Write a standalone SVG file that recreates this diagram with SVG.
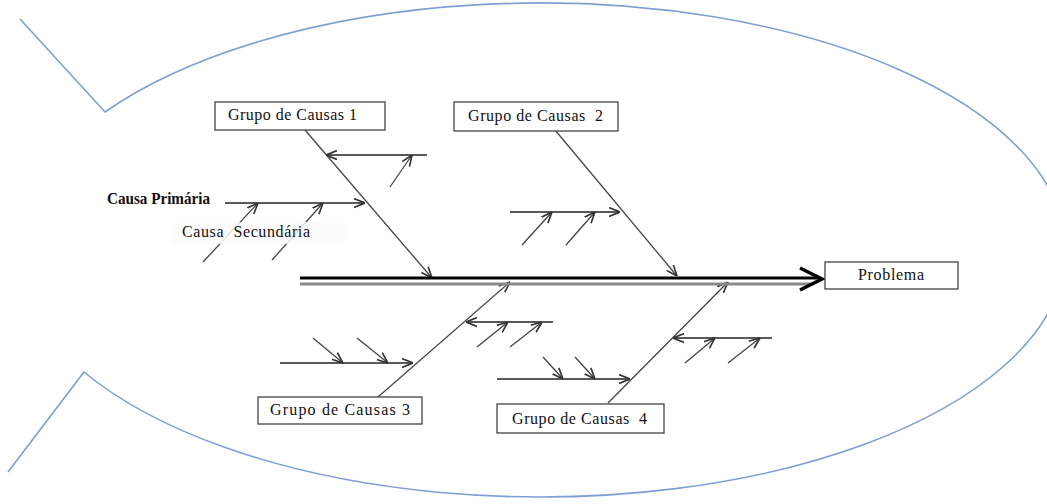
<svg xmlns="http://www.w3.org/2000/svg" width="1047" height="504" viewBox="0 0 1047 504">
<style>
.box{fill:#fff;stroke:#444;stroke-width:1.3}
.lbl{font-family:"Liberation Serif","Times New Roman",serif;font-size:16px;fill:#111}
.bone{stroke:#444;stroke-width:1.3;fill:none;marker-end:url(#arr)}
.sub{stroke:#222;stroke-width:1.5;fill:none;marker-end:url(#arr)}
.tw{stroke:#444;stroke-width:1.3;fill:none;marker-end:url(#arr)}
</style>
<defs>
<marker id="arr" viewBox="0 0 10 10" refX="10" refY="5" markerWidth="11" markerHeight="11" markerUnits="userSpaceOnUse" orient="auto">
<path d="M0,1 L10,5 L0,9" fill="none" stroke="#333" stroke-width="1.5"/>
</marker>
</defs>
<rect width="1047" height="504" fill="#fff"/>
<g id="fish">
<path d="M20,19 L105,112 A525 247 0 1 1 84,372 L8,472" fill="none" stroke="#7f9fd2" stroke-width="1.6"/>
</g>
<g id="connectors">
<line class="bone" x1="305" y1="130" x2="432" y2="278"/>
<line class="bone" x1="555" y1="130" x2="677" y2="276"/>
<line class="bone" x1="378" y1="397" x2="510" y2="282"/>
<line class="bone" x1="608" y1="403" x2="728" y2="282"/>
<line class="sub" x1="427" y1="155" x2="326" y2="155"/>
<line class="tw" x1="390" y1="187" x2="412" y2="155"/>
<line class="sub" x1="225" y1="203" x2="365" y2="203"/>
<line class="tw" x1="203" y1="262" x2="258" y2="203"/>
<line class="tw" x1="272" y1="260" x2="323" y2="203"/>
<line class="sub" x1="510" y1="212" x2="620" y2="212"/>
<line class="tw" x1="522" y1="245" x2="552" y2="212"/>
<line class="tw" x1="566" y1="245" x2="595" y2="212"/>
<line class="sub" x1="553" y1="322" x2="466" y2="322"/>
<line class="tw" x1="477" y1="347" x2="508" y2="322"/>
<line class="tw" x1="510" y1="347" x2="542" y2="322"/>
<line class="sub" x1="280" y1="363" x2="413" y2="363"/>
<line class="tw" x1="313" y1="338" x2="343" y2="363"/>
<line class="tw" x1="357" y1="338" x2="388" y2="363"/>
<line class="sub" x1="772" y1="338" x2="673" y2="338"/>
<line class="tw" x1="685" y1="363" x2="715" y2="338"/>
<line class="tw" x1="728" y1="363" x2="760" y2="338"/>
<line class="sub" x1="497" y1="379" x2="630" y2="379"/>
<line class="tw" x1="543" y1="357" x2="563" y2="379"/>
<line class="tw" x1="575" y1="357" x2="595" y2="379"/>
<line x1="300" y1="284" x2="812" y2="284" stroke="#8a8a8a" stroke-width="3"/>
<line x1="300" y1="278" x2="818" y2="278" stroke="#000" stroke-width="3"/>
<path d="M800,268 L822,279 L800,290" fill="none" stroke="#000" stroke-width="3.5" stroke-linejoin="miter"/>
</g>
<g id="secundaria">
<rect x="172" y="222" width="173" height="22" fill="#fbfbfb" opacity="0.85"/>
<text class="lbl" x="182" y="237" font-size="15" textLength="128" lengthAdjust="spacing" xml:space="preserve">Causa  Secundária</text>
</g>
<g id="primaria">
<text class="lbl" x="107" y="204" font-size="15" font-weight="bold" textLength="103" lengthAdjust="spacingAndGlyphs">Causa Primária</text>
</g>
<g id="grupo1">
<rect class="box" x="215" y="102" width="170" height="28"/>
<text class="lbl" x="228" y="120" textLength="129" lengthAdjust="spacing">Grupo de Causas 1</text>
</g>
<g id="grupo2">
<rect class="box" x="454" y="102" width="164" height="29"/>
<text class="lbl" x="468" y="121" textLength="135" lengthAdjust="spacing" xml:space="preserve">Grupo de Causas  2</text>
</g>
<g id="grupo3">
<rect class="box" x="258" y="397" width="164" height="27"/>
<text class="lbl" x="270" y="415" textLength="140" lengthAdjust="spacing">Grupo de Causas 3</text>
</g>
<g id="grupo4">
<rect class="box" x="497" y="404" width="167" height="29"/>
<text class="lbl" x="512" y="424" textLength="135" lengthAdjust="spacing" xml:space="preserve">Grupo de Causas  4</text>
</g>
<g id="problema">
<rect class="box" x="825" y="262" width="133" height="27" stroke="#777"/>
<text class="lbl" x="858" y="280" font-size="14" textLength="66" lengthAdjust="spacing">Problema</text>
</g>
</svg>
